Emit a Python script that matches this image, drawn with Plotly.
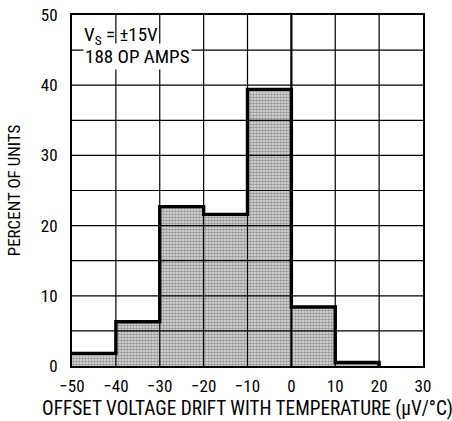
import plotly.graph_objects as go

bin_left = [-50, -40, -30, -20, -10, 0, 10]
percent = [1.8, 6.3, 22.7, 21.6, 39.4, 8.4, 0.5]
bin_width = 10
x_ticks = [-50, -40, -30, -20, -10, 0, 10, 20, 30]
y_ticks = [0, 5, 10, 15, 20, 25, 30, 35, 40, 45, 50]
y_labels = ['0', '', '10', '', '20', '', '30', '', '40', '', '50']

FONT = "Roboto Condensed, Liberation Sans Narrow, Arial Narrow, sans-serif"
X_MIN, X_MAX, Y_MIN, Y_MAX = -50, 30, 0, 50

centers = [b + bin_width / 2 for b in bin_left]

# step outline
sx, sy = [], []
for b, p in zip(bin_left, percent):
    sx += [b, b + bin_width]
    sy += [p, p]
sx.append(bin_left[-1] + bin_width)
sy.append(0)

fig = go.Figure()
fig.add_trace(go.Bar(
    x=centers, y=percent, width=bin_width,
    marker=dict(color='#c0c0c0', line=dict(width=0),
                pattern=dict(shape='.', fgcolor='#4a4a4a', bgcolor='#e2e2e2',
                             size=3, solidity=0.55)),
    showlegend=False, hoverinfo='skip'))

shapes = []
for v in x_ticks[1:-1]:
    shapes.append(dict(type='line', xref='x', yref='y', x0=v, x1=v, y0=Y_MIN, y1=Y_MAX,
                       layer='above', line=dict(color='black', width=2.2 if v == 0 else 1.2)))
for v in y_ticks[1:-1]:
    shapes.append(dict(type='line', xref='x', yref='y', x0=X_MIN, x1=X_MAX, y0=v, y1=v,
                       layer='above', line=dict(color='black', width=1.2)))

fig.add_trace(go.Scatter(
    x=sx, y=sy, mode='lines',
    line=dict(color='black', width=3.4), showlegend=False, hoverinfo='skip'))

fig.update_layout(
    width=452, height=421,
    margin=dict(l=72, r=29, t=15, b=55, autoexpand=False),
    paper_bgcolor='white', plot_bgcolor='white',
    bargap=0,
    shapes=shapes,
    font=dict(family=FONT, color='black', size=16),
    xaxis=dict(range=[X_MIN, X_MAX], tickvals=x_ticks,
               ticktext=[('\u2212' + str(-v)) if v < 0 else str(v) for v in x_ticks],
               showgrid=False, automargin=False, ticklabeloverflow='allow',
               showline=True, linecolor='black', linewidth=2, mirror=True,
               ticks='', zeroline=False, ticklabelstandoff=4,
               tickfont=dict(size=17),
               title=dict(text='OFFSET VOLTAGE DRIFT WITH TEMPERATURE (\u03bcV/\u00b0C)',
                          font=dict(size=19.3), standoff=6)),
    yaxis=dict(range=[Y_MIN, Y_MAX], tickvals=y_ticks, ticktext=y_labels,
               showgrid=False, automargin=False, ticklabeloverflow='allow',
               showline=True, linecolor='black', linewidth=2, mirror=True,
               ticks='', zeroline=False, ticklabelstandoff=9,
               tickfont=dict(size=17),
               title=dict(text='PERCENT OF UNITS', font=dict(size=17), standoff=16)),
    annotations=[
        dict(x=-47.4, y=44.1, xref='x', yref='y', xanchor='left', yanchor='middle',
             text='188 OP AMPS', showarrow=False,
             align='left', bgcolor='white', borderpad=1,
             font=dict(size=19, family=FONT)),
        dict(x=-47.4, y=47.1, xref='x', yref='y', xanchor='left', yanchor='middle',
             text='V<sub>S</sub> = \u00b115V', showarrow=False,
             align='left', bgcolor='rgba(0,0,0,0)', borderpad=0,
             font=dict(size=19, family=FONT)),
    ],
)

fig.write_html("out.html", config={'displayModeBar': False},
               post_script="document.body.style.margin='0';")
